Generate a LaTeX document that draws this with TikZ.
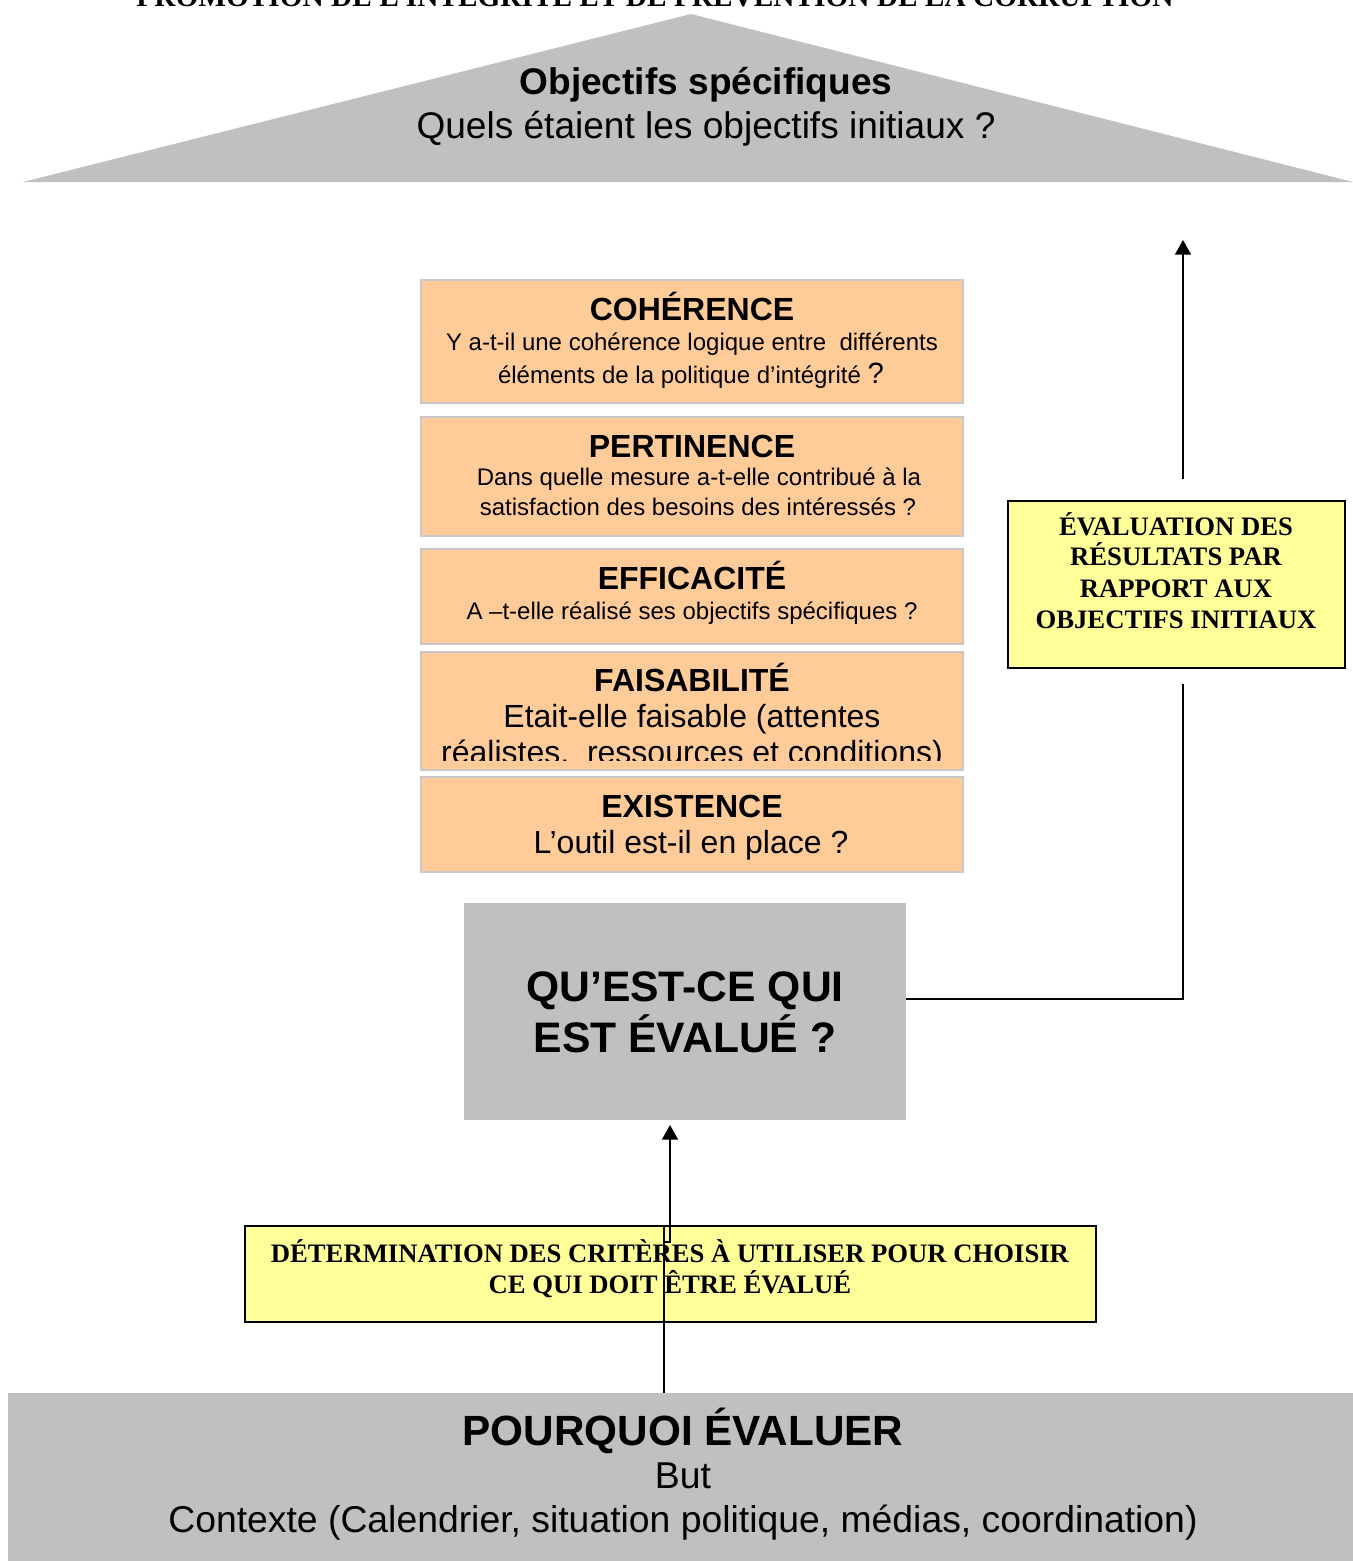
\documentclass[tikz,border=0pt]{standalone}
\usepackage{fontspec}
\setmainfont{Liberation Sans}
\newfontfamily\timesfont{Liberation Serif}
\usetikzlibrary{arrows.meta,fit}

\definecolor{roofgray}{HTML}{C0C0C0}
\definecolor{peach}{HTML}{FFCC99}
\definecolor{peachedge}{HTML}{C8C8C8}
\definecolor{paleyellow}{HTML}{FFFF99}

\newcommand{\fsz}[1]{\fontsize{#1}{#1}\selectfont}

\begin{document}
\begin{tikzpicture}[x=0.75pt,y=-0.75pt,
  every node/.style={inner sep=0pt,outer sep=0pt},
  peachbox/.style={fill=peach,draw=peachedge,line width=1.6pt,inner sep=0pt},
  graybox/.style={fill=roofgray,inner sep=0pt},
  yellowbox/.style={fill=paleyellow,draw=black,line width=1.4pt,inner sep=0pt},
  line/.style={anchor=base,text=black},
  crit/.style={line,font=\fsz{24}\bfseries},
  critsmall/.style={line,font=\fsz{18}},
  critlarge/.style={line,font=\fsz{24}},
  serifline/.style={line,font=\timesfont\bfseries\fsz{20}},
  link/.style={line width=1.3pt,draw=black},
  arrowlink/.style={link,-{Triangle[length=11pt,width=12pt]}}
]
\useasboundingbox (0,0) rectangle (1353,1561);
\clip (0,0) rectangle (1353,1561);

% heading, partly above the page edge
\node[line,font=\timesfont\bfseries\fsz{22}] (heading) at (655,6)
  {PROMOTION DE L’INTÉGRITÉ ET DE PRÉVENTION DE LA CORRUPTION};

% roof: specific objectives
\fill[roofgray] (23,182) -- (691,14) -- (1353,182) -- cycle;
\node[line,font=\fsz{27.8}\bfseries] (roofA) at (706,94) {Objectifs spécifiques};
\node[line,font=\fsz{27.8}] (roofB) at (706,138) {Quels étaient les objectifs initiaux ?};

% stack of evaluation criteria
\node[peachbox,fit={(421,280) (963,403)}] (coh) {};
\node[crit] (cohT) at (692,320) {COHÉRENCE};
\node[critsmall] (cohA) at (692,350) {Y a-t-il une cohérence logique entre\ \ différents};
\node[critsmall] (cohB) at (691,383) {éléments de la politique d’intégrité {\fsz{22}?}};

\node[peachbox,fit={(421,417) (963,536)}] (pert) {};
\node[crit] (pertT) at (692,457) {PERTINENCE};
\node[critsmall] (pertA) at (699,485) {Dans quelle mesure a-t-elle contribué à la};
\node[critsmall] (pertB) at (698,515) {satisfaction des besoins des intéressés ?};

\node[peachbox,fit={(421,549) (963,644)}] (eff) {};
\node[crit] (effT) at (692,589) {EFFICACITÉ};
\node[critsmall] (effA) at (692,619) {A –t-elle réalisé ses objectifs spécifiques ?};

\node[peachbox,fit={(421,652) (963,770)}] (fais) {};
\node[crit] (faisT) at (692,691) {FAISABILITÉ};
\node[critlarge] (faisA) at (692,727) {Etait-elle faisable (attentes};
\begin{scope}
  \clip (421,652) rectangle (963,760);
  \node[critlarge] (faisB) at (692,763) {réalistes,\ \ ressources et conditions)};
\end{scope}

\node[peachbox,fit={(421,777) (963,872)}] (exist) {};
\node[crit] (existT) at (692,817) {EXISTENCE};
\node[critlarge] (existA) at (691,853) {L’outil est-il en place ?};

% central question
\node[graybox,fit={(464,903) (906,1120)}] (what) {};
\node[line,font=\fsz{32}\bfseries] (whatA) at (685,1001) {QU’EST-CE QUI};
\node[line,font=\fsz{32}\bfseries] (whatB) at (685,1052) {EST ÉVALUÉ ?};

% results against initial objectives
\node[yellowbox,fit={(1008,501) (1345,668)}] (results) {};
\node[serifline] (resA) at (1176,535) {ÉVALUATION DES};
\node[serifline] (resB) at (1176,565) {RÉSULTATS PAR};
\node[serifline] (resC) at (1176,597) {RAPPORT AUX};
\node[serifline] (resD) at (1176,628) {OBJECTIFS INITIAUX};

% criteria selection
\node[yellowbox,fit={(245,1226) (1096,1322)}] (select) {};
\node[serifline] (selA) at (670,1262) {DÉTERMINATION DES CRITÈRES À UTILISER POUR CHOISIR};
\node[serifline] (selB) at (670,1293) {CE QUI DOIT ÊTRE ÉVALUÉ};

% foundation: why evaluate
\node[graybox,fit={(8,1393) (1353,1561)}] (why) {};
\node[line,font=\fsz{31.7}\bfseries] (whyT) at (683,1445) {POURQUOI ÉVALUER};
\node[line,font=\fsz{28}] (whyA) at (683,1488) {But};
\node[line,font=\fsz{28}] (whyB) at (683,1532) {Contexte (Calendrier, situation politique, médias, coordination)};

% connectors
\coordinate (rBelow) at (1183,684);
\coordinate (rAbove) at (1183,479);
\coordinate (rTip) at (1183,240);
\draw[link] (what.east |- 0,999) -- (1183,999) -- (rBelow);
\draw[arrowlink] (rAbove) -- (rTip);

\coordinate (bStart) at (664,1393);
\coordinate (bStop) at (664,1226);
\coordinate (bJog) at (664,1242);
\coordinate (bTip) at (670,1125);
\draw[link] (why.north -| bStart) -- (bStop);
\draw[arrowlink] (bJog) -- (bTip |- bJog) -- (bTip);
\end{tikzpicture}
\end{document}
